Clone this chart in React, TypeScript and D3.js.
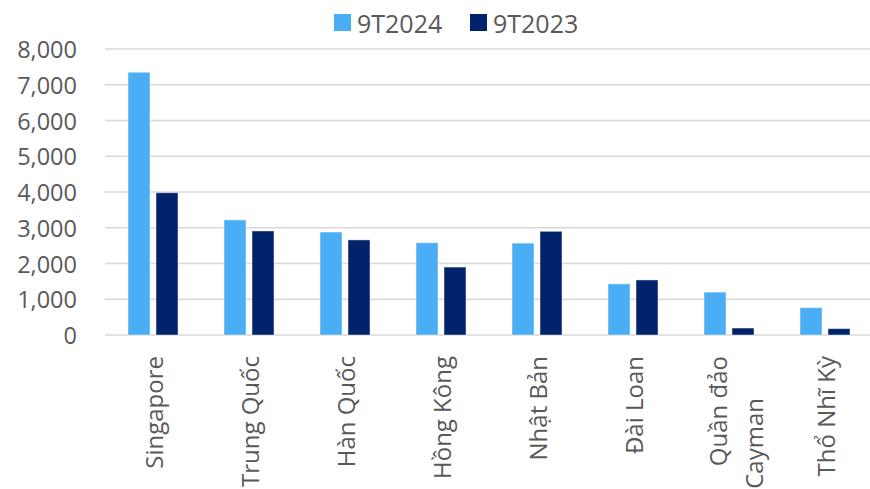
import React from "react";
import * as d3 from "d3";

const categories = ["Singapore", "Trung Quốc", "Hàn Quốc", "Hồng Kông", "Nhật Bản", "Đài Loan", "Quần đảo Cayman", "Thổ Nhĩ Kỳ"];
const categoryLines = [["Singapore"], ["Trung Quốc"], ["Hàn Quốc"], ["Hồng Kông"], ["Nhật Bản"], ["Đài Loan"], ["Quần đảo", "Cayman"], ["Thổ Nhĩ Kỳ"]];
const seriesNames = ["9T2024", "9T2023"];
const values2024 = [7350, 3220, 2880, 2580, 2570, 1430, 1200, 765];
const values2023 = [3980, 2910, 2660, 1900, 2900, 1540, 195, 178];
const yTicks = [0, 1000, 2000, 3000, 4000, 5000, 6000, 7000, 8000];

const colors = ["#4BAEF5", "#00236B"];
const textColor = "#595959";
const font = "'Open Sans', 'Noto Sans', sans-serif";

export default function App() {
  const W = 870, H = 489;
  const left = 105, right = 873, top = 49, bottom = 335;
  const x = d3.scaleBand<string>().domain(categories).range([left, right]).paddingInner(0).paddingOuter(0);
  const y = d3.scaleLinear().domain([0, 8000]).range([bottom, top]);
  const bw = x.bandwidth();
  const x1 = d3.scaleBand<string>().domain(seriesNames).range([bw / 2 - 25, bw / 2 + 25]).paddingInner(0.2143);
  const seriesValues = [values2024, values2023];
  const fmt = d3.format(",");

  return (
    <svg width={W} height={H} style={{ position: "absolute", left: 0, top: 0 }}>
      <rect width={W} height={H} fill="#fff" />
      {yTicks.map((t) => (
        <g key={t}>
          <line x1={left} x2={W} y1={y(t)} y2={y(t)} stroke="#d9d9d9" strokeWidth={1.5} />
          <text x={77} y={y(t)} textAnchor="end" dominantBaseline="central" fontFamily={font} fontSize={23.5} fill={textColor}>
            {fmt(t)}
          </text>
        </g>
      ))}
      {seriesNames.map((s, si) =>
        categories.map((c, ci) => {
          const v = seriesValues[si][ci];
          return (
            <rect
              key={s + c}
              x={(x(c) as number) + (x1(s) as number)}
              y={y(v)}
              width={x1.bandwidth()}
              height={y(0) - y(v)}
              fill={colors[si]}
              stroke="#ffffff"
              strokeOpacity={0.45}
              strokeWidth={1}
            />
          );
        })
      )}
      {categories.map((c, ci) => {
        const cx = (x(c) as number) + bw / 2;
        const lines = categoryLines[ci];
        if (lines.length === 1) {
          return (
            <text key={c} transform={`translate(${cx},356) rotate(-90)`} textAnchor="end" dominantBaseline="central" fontFamily={font} fontSize={24} fill={textColor}>
              {lines[0]}
            </text>
          );
        }
        return (
          <g key={c}>
            <text transform={`translate(${cx - 12},356) rotate(-90)`} textAnchor="end" dominantBaseline="central" fontFamily={font} fontSize={24} fill={textColor}>
              {lines[0]}
            </text>
            <text transform={`translate(${cx + 24},398) rotate(-90)`} textAnchor="end" dominantBaseline="central" fontFamily={font} fontSize={24} fill={textColor}>
              {lines[1]}
            </text>
          </g>
        );
      })}
      {seriesNames.map((s, si) => {
        const lx = si === 0 ? 334 : 470;
        return (
          <g key={s}>
            <rect x={lx} y={14} width={17} height={17} fill={colors[si]} />
            <text x={lx + 23} y={23} dominantBaseline="central" fontFamily={font} fontSize={25} fill={textColor}>
              {s}
            </text>
          </g>
        );
      })}
    </svg>
  );
}
